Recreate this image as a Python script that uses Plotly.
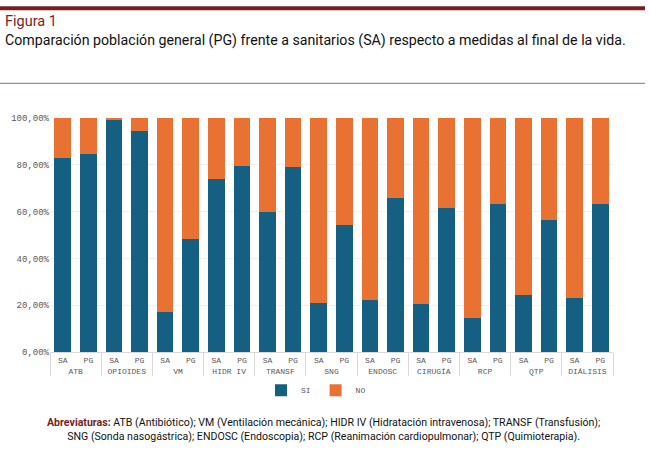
import plotly.graph_objects as go

# categories
grupos = ['ATB', 'OPIOIDES', 'VM', 'HIDR IV', 'TRANSF', 'SNG', 'ENDOSC', 'CIRUGÍA', 'RCP', 'QTP', 'DIÁLISIS']
subgrupos = ['SA', 'PG']

# % SI por grupo (SA, PG)
si_sa = [83.1, 99.4, 17.1, 73.9, 59.7, 20.9, 22.4, 20.5, 14.4, 24.5, 23.0]
si_pg = [84.6, 94.6, 48.5, 79.5, 79.1, 54.1, 65.8, 61.4, 63.3, 56.2, 63.1]

tick_vals = [0, 0.2, 0.4, 0.6, 0.8, 1.0]
tick_text = ['0,00%', '20,00%', '40,00%', '60,00%', '80,00%', '100,00%']

x_outer, x_inner, si, no = [], [], [], []
for g, a, b in zip(grupos, si_sa, si_pg):
    for s, v in zip(subgrupos, [a, b]):
        x_outer.append(g)
        x_inner.append(s)
        si.append(v / 100)
        no.append(1 - v / 100)

AZUL = '#156082'
NARANJA = '#E97132'
ROJO = '#7a1c22'
MONO = 'Liberation Mono, Courier New, monospace'
NARROW = 'Roboto, sans-serif'

fig = go.Figure()
fig.add_trace(go.Bar(x=[x_outer, x_inner], y=si, name='SI', marker_color=AZUL, marker_line_width=0))
fig.add_trace(go.Bar(x=[x_outer, x_inner], y=no, name='NO', marker_color=NARANJA, marker_line_width=0))

# plot area: x 50..613 px, y 117.7..351.7 px
L, R, T, B = 50, 38, 117.7, 103.3
W, H = 651 - L - R, 455 - T - B

def px(x):
    return (x - L) / W

def py(y):
    return (455 - B - y) / H

fig.update_layout(
    width=651, height=455,
    barmode='stack', bargap=0.35,
    plot_bgcolor='white', paper_bgcolor='white',
    margin=dict(l=L, r=R, t=T, b=B, autoexpand=False),
    showlegend=True,
    legend=dict(orientation='h', x=px(316), xanchor='center', y=py(390), yanchor='middle',
                font=dict(family=MONO, size=8, color='#595959'), itemwidth=30,
                traceorder='normal', tracegroupgap=0),
    shapes=[
        dict(type='line', xref='paper', yref='paper', x0=px(0), x1=px(645), y0=py(8), y1=py(8),
             line=dict(color=ROJO, width=4)),
        dict(type='line', xref='paper', yref='paper', x0=px(0), x1=px(645), y0=py(83), y1=py(83),
             line=dict(color='#9a6b6e', width=1)),
    ],
    annotations=[
        dict(text='Figura 1', xref='paper', yref='paper', x=px(3), y=py(21), xanchor='left', yanchor='middle',
             showarrow=False, font=dict(family=NARROW, size=14.5, color=ROJO)),
        dict(text='Comparación población general (PG) frente a sanitarios (SA) respecto a medidas al final de la vida.',
             xref='paper', yref='paper', x=px(3), y=py(40), xanchor='left', yanchor='middle',
             showarrow=False, font=dict(family=NARROW, size=14.2, color='#111111')),
        dict(text='<b><span style="color:' + ROJO + '">Abreviaturas:</span></b> ATB (Antibiótico); VM (Ventilación mecánica); '
                  'HIDR IV (Hidratación intravenosa); TRANSF (Transfusión);<br>'
                  'SNG (Sonda nasogástrica); ENDOSC (Endoscopia); RCP (Reanimación cardiopulmonar); QTP (Quimioterapia).',
             xref='paper', yref='paper', x=px(323), y=py(429), xanchor='center', yanchor='middle',
             showarrow=False, align='center', font=dict(family=NARROW, size=10.6, color='#111111')),
    ],
)
fig.update_yaxes(range=[0, 1], tickvals=tick_vals, ticktext=tick_text, showgrid=True, gridcolor='#f0f0f0',
                 zeroline=False, ticks='', automargin=False,
                 tickfont=dict(family=MONO, size=9, color='#595959'))
fig.update_xaxes(showline=True, linecolor='#d9d9d9', showdividers=True, dividercolor='#d9d9d9', dividerwidth=1,
                 automargin=False, tickfont=dict(family=MONO, size=8, color='#595959'))

# the page has a default 8px body margin; remove it so the figure fills the window
fig.write_html('out.html', config={'displayModeBar': False},
               post_script="document.body.style.margin='0';")
